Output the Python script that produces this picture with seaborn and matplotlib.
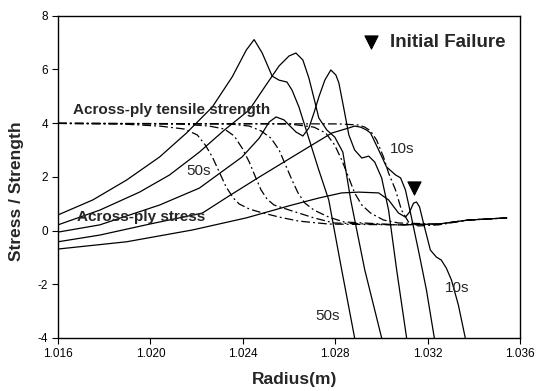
import matplotlib
matplotlib.use("Agg")
import matplotlib.pyplot as plt
import numpy as np
import pandas as pd
import seaborn as sns

sns.set_style("ticks")
plt.rcParams["font.family"] = ["Liberation Sans", "DejaVu Sans"]
plt.rcParams["axes.unicode_minus"] = False

# ---------------- data ----------------
# Across-ply stress (solid lines), radius in m, value = stress/strength
s50_r = [1.01600, 1.01751, 1.01897, 1.02040, 1.02156, 1.02268, 1.02354, 1.02415, 1.02449, 1.02484,
         1.02527, 1.02557, 1.02591, 1.02613, 1.02643, 1.02665, 1.02695, 1.02729, 1.02772, 1.02824, 1.02884]
s50_v = [0.58, 1.14, 1.88, 2.74, 3.63, 4.60, 5.72, 6.72, 7.11, 6.61,
         5.75, 5.60, 5.53, 5.23, 4.60, 4.00, 3.18, 2.25, 1.14, -1.28, -4.00]

s40_r = [1.01600, 1.01781, 1.01953, 1.02083, 1.02212, 1.02320, 1.02428, 1.02492, 1.02557, 1.02600,
         1.02630, 1.02660, 1.02686, 1.02708, 1.02729, 1.02764, 1.02798, 1.02833, 1.02867, 1.02928, 1.03001]
s40_v = [0.21, 0.76, 1.43, 2.07, 2.92, 3.74, 4.49, 5.31, 6.13, 6.50,
         6.61, 6.35, 5.68, 4.93, 4.19, 3.74, 3.48, 2.92, 1.14, -1.47, -4.00]

s30_r = [1.01600, 1.01781, 1.02040, 1.02212, 1.02397, 1.02471, 1.02514, 1.02544, 1.02578, 1.02630,
         1.02660, 1.02686, 1.02708, 1.02729, 1.02755, 1.02781, 1.02803, 1.02816, 1.02837, 1.02859,
         1.02884, 1.02915, 1.02945, 1.02971, 1.03001, 1.03031, 1.03066, 1.03109]
s30_v = [-0.06, 0.21, 0.95, 1.58, 2.74, 3.44, 4.04, 4.23, 4.12, 3.67,
         3.52, 3.82, 4.38, 4.97, 5.60, 5.98, 5.79, 5.49, 4.56, 3.56,
         3.00, 2.70, 2.77, 2.55, 1.96, 0.76, -1.47, -4.00]

s20_r = [1.01600, 1.01781, 1.01997, 1.02225, 1.02341, 1.02471, 1.02643, 1.02785, 1.02859, 1.02884,
         1.02910, 1.02936, 1.02953, 1.02988, 1.03022, 1.03061, 1.03083, 1.03104, 1.03126, 1.03160,
         1.03195, 1.03229]
s20_v = [-0.42, -0.17, 0.24, 0.65, 1.29, 1.99, 2.89, 3.63, 3.82, 3.89,
         3.85, 3.74, 3.63, 3.00, 2.37, 2.07, 1.96, 1.51, 0.65, -0.73,
         -2.22, -4.00]

s10_r = [1.01600, 1.01897, 1.02182, 1.02415, 1.02613, 1.02729, 1.02828, 1.02902, 1.02988, 1.03031,
         1.03074, 1.03104, 1.03122, 1.03139, 1.03152, 1.03165, 1.03182, 1.03212, 1.03238, 1.03259,
         1.03281, 1.03303, 1.03333, 1.03363]
s10_v = [-0.69, -0.42, 0.02, 0.47, 0.95, 1.21, 1.40, 1.43, 1.40, 1.14,
         0.65, 0.50, 0.69, 1.02, 1.06, 0.88, 0.28, -0.73, -0.99, -1.10,
         -1.40, -1.84, -2.77, -4.00]

# Across-ply tensile strength (dash-dot lines)
t50_r = [1.01600, 1.01867, 1.02040, 1.02147, 1.02203, 1.02238, 1.02268, 1.02298, 1.02328, 1.02359,
         1.02384, 1.02428, 1.02471, 1.02557, 1.02643, 1.02772, 1.03074, 1.03247, 1.03376, 1.03544]
t50_v = [3.99, 3.97, 3.89, 3.78, 3.56, 3.18, 2.74, 2.18, 1.62, 1.21,
         0.99, 0.80, 0.69, 0.50, 0.35, 0.24, 0.21, 0.24, 0.39, 0.47]

t40_r = [1.01600, 1.02126, 1.02255, 1.02320, 1.02363, 1.02397, 1.02428, 1.02453, 1.02479, 1.02505,
         1.02535, 1.02613, 1.02708, 1.02794, 1.03074, 1.03247, 1.03376, 1.03544]
t40_v = [3.99, 3.97, 3.89, 3.78, 3.52, 3.07, 2.55, 2.03, 1.51, 1.17,
         0.95, 0.73, 0.47, 0.28, 0.21, 0.24, 0.39, 0.47]

t30_r = [1.01600, 1.02341, 1.02428, 1.02479, 1.02522, 1.02557, 1.02587, 1.02613, 1.02639, 1.02669,
         1.02708, 1.02772, 1.02837, 1.03074, 1.03247, 1.03376, 1.03544]
t30_v = [3.99, 3.97, 3.89, 3.71, 3.44, 3.00, 2.40, 1.88, 1.40, 1.02,
         0.76, 0.50, 0.32, 0.21, 0.24, 0.39, 0.47]

t20_r = [1.01600, 1.02600, 1.02708, 1.02759, 1.02798, 1.02828, 1.02859, 1.02884, 1.02915, 1.02953,
         1.03009, 1.03074, 1.03247, 1.03376, 1.03544]
t20_v = [3.99, 3.97, 3.85, 3.63, 3.18, 2.63, 1.96, 1.40, 0.95, 0.65,
         0.39, 0.28, 0.24, 0.39, 0.47]

t10_r = [1.01600, 1.02816, 1.02902, 1.02928, 1.02953, 1.02979, 1.03009, 1.03031, 1.03061, 1.03087,
         1.03117, 1.03160, 1.03247, 1.03376, 1.03544]
t10_v = [3.99, 3.97, 3.93, 3.85, 3.71, 3.37, 2.74, 2.14, 1.51, 0.76,
         0.32, 0.17, 0.21, 0.39, 0.47]

failure_r = [1.03143]
failure_v = [1.58]

x_ticks = [1.016, 1.020, 1.024, 1.028, 1.032, 1.036]
y_ticks = [-4, -2, 0, 2, 4, 6, 8]

# ---------------- tables for seaborn ----------------
stress = {"50s": (s50_r, s50_v), "40s": (s40_r, s40_v), "30s": (s30_r, s30_v),
          "20s": (s20_r, s20_v), "10s": (s10_r, s10_v)}
strength = {"50s": (t50_r, t50_v), "40s": (t40_r, t40_v), "30s": (t30_r, t30_v),
            "20s": (t20_r, t20_v), "10s": (t10_r, t10_v)}


def to_frame(d):
    parts = []
    for k, (r, v) in d.items():
        parts.append(pd.DataFrame({"radius": r, "value": v, "curve": k}))
    return pd.concat(parts, ignore_index=True)


df_s = to_frame(stress)
df_t = to_frame(strength)
df_f = pd.DataFrame({"radius": failure_r, "value": failure_v})

fig = plt.figure(figsize=(5.36, 3.91), dpi=100)
ax = fig.add_axes([0.1082, 0.1358, 0.862, 0.824])

sns.lineplot(data=df_t, x="radius", y="value", units="curve", estimator=None, sort=False,
             color="black", linewidth=0.9, linestyle=(0, (7, 2.5, 1.5, 2.5)), ax=ax, legend=False)
sns.lineplot(data=df_s, x="radius", y="value", units="curve", estimator=None, sort=False,
             color="black", linewidth=0.9, ax=ax, legend=False)
sns.scatterplot(data=df_f, x="radius", y="value", marker="v", s=90, color="black",
                edgecolor="black", ax=ax, label="Initial Failure", zorder=5)

leg = ax.legend(loc="upper right", bbox_to_anchor=(0.968, 0.945), frameon=False,
                borderpad=0, borderaxespad=0, handletextpad=0.5, handlelength=1.0,
                prop={"weight": "bold", "size": 13.5})

ax.set_xlim(1.016, 1.036)
ax.set_ylim(-4, 8)
ax.set_xticks(x_ticks)
ax.set_xticklabels([f"{t:.3f}" for t in x_ticks])
ax.set_yticks(y_ticks)
ax.set_yticklabels([str(t) for t in y_ticks])
ax.tick_params(direction="out", length=4, width=0.8, labelsize=8.5, colors="black", pad=3)
for sp in ax.spines.values():
    sp.set_visible(True)
    sp.set_color("black")
    sp.set_linewidth(1.0)

ax.set_xlabel("Radius(m)", fontsize=12.5, fontweight="bold")
ax.set_ylabel("Stress / Strength", fontsize=12.5, fontweight="bold")
ax.xaxis.set_label_coords(0.513, -0.105)
ax.yaxis.set_label_coords(-0.074, 0.456)

ax.text(1.01663, 4.49, "Across-ply tensile strength", fontsize=11, fontweight="bold",
        ha="left", va="center")
ax.text(1.01681, 0.49, "Across-ply stress", fontsize=11, fontweight="bold",
        ha="left", va="center")
ax.text(1.02155, 2.20, "50s", fontsize=11, ha="left", va="center")
ax.text(1.03038, 3.03, "10s", fontsize=11, ha="left", va="center")
ax.text(1.02715, -3.20, "50s", fontsize=11, ha="left", va="center")
ax.text(1.03275, -2.14, "10s", fontsize=11, ha="left", va="center")

fig.savefig("out.png", dpi=100)
